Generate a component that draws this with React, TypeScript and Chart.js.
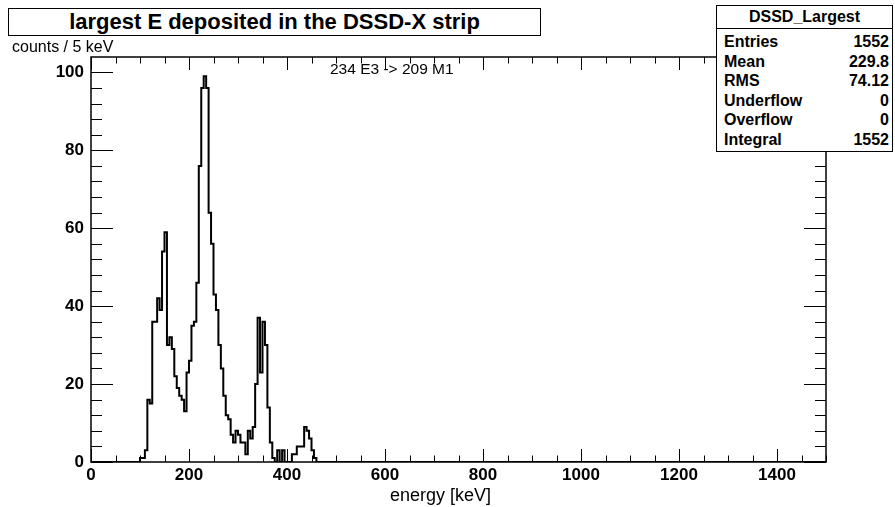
import React, { useEffect, useRef } from "react";
import { Chart, registerables } from "chart.js";

Chart.register(...registerables);

// ---- text ----
const titleText = "largest E deposited in the DSSD-X strip";
const yAxisTitle = "counts / 5 keV";
const xAxisTitle = "energy [keV]";
const annotationText = "234 E3 -> 209 M1";
const statsName = "DSSD_Largest";
const statsLabels = ["Entries", "Mean", "RMS", "Underflow", "Overflow", "Integral"];
const statsValues = ["1552", "229.8", "74.12", "0", "0", "1552"];

// ---- histogram: 5 keV bins, first listed bin starts at 100 keV ----
const binWidth = 5;
const firstBinLow = 100;
const counts = [
  1, 1, 3, 16, 15, 36, 36, 42, 39, 54,
  59, 30, 32, 29, 22, 19, 17, 16, 13, 23,
  26, 35, 36, 46, 76, 96, 99, 96, 64, 56,
  43, 39, 30, 24, 17, 12, 11, 7, 5, 8,
  7, 5, 5, 2, 8, 6, 9, 20, 37, 23,
  36, 30, 14, 5, 1, 0, 3, 0, 3, 0,
  0, 0, 2, 2, 4, 4, 4, 9, 8, 6,
  3, 1,
];

// ---- axes ----
const xMin = 0;
const xMax = 1500;
const xMajorStep = 200;
const xMinorStep = 50;
const yMajorStep = 20;
const yMinorStep = 4;

const FONT = '"Liberation Sans", Arial, Helvetica, sans-serif';

// frame plus inward-pointing ticks on all four sides
const frameTicks = {
  id: "frameTicks",
  afterDatasetsDraw(chart: any) {
    const { ctx, chartArea: a, scales } = chart;
    const x = scales.x;
    const y = scales.y;
    ctx.save();
    ctx.strokeStyle = "#000";
    ctx.lineWidth = 1;
    ctx.beginPath();
    for (let v = xMin; v <= xMax + 1e-6; v += xMinorStep) {
      const px = Math.round(x.getPixelForValue(v)) + 0.5;
      const len = v % xMajorStep === 0 ? 13 : 6.5;
      ctx.moveTo(px, a.bottom);
      ctx.lineTo(px, a.bottom - len);
      ctx.moveTo(px, a.top);
      ctx.lineTo(px, a.top + len);
    }
    for (let v = 0; v <= y.max + 1e-6; v += yMinorStep) {
      const py = Math.round(y.getPixelForValue(v)) + 0.5;
      const len = v % yMajorStep === 0 ? 22 : 11;
      ctx.moveTo(a.left, py);
      ctx.lineTo(a.left + len, py);
      ctx.moveTo(a.right, py);
      ctx.lineTo(a.right - len, py);
    }
    ctx.stroke();
    ctx.lineWidth = 1.5;
    ctx.strokeRect(a.left, a.top, a.right - a.left, a.bottom - a.top);
    ctx.restore();
  },
};

function HistogramChart() {
  const canvasRef = useRef<HTMLCanvasElement | null>(null);

  useEffect(() => {
    const canvas = canvasRef.current;
    if (!canvas) return;

    const points: { x: number; y: number }[] = [{ x: xMin, y: 0 }];
    counts.forEach((c, i) => points.push({ x: firstBinLow + i * binWidth, y: c }));
    points.push({ x: firstBinLow + counts.length * binWidth, y: 0 });
    points.push({ x: xMax, y: 0 });

    const yMax = Math.max(...counts) * 1.05;

    const chart = new Chart(canvas, {
      type: "line",
      data: {
        datasets: [
          {
            data: points,
            borderColor: "#000",
            borderWidth: 2,
            pointRadius: 0,
            stepped: true,
            fill: false,
            tension: 0,
          },
        ],
      },
      options: {
        animation: false,
        responsive: false,
        events: [],
        layout: { padding: { top: 57, right: 69, left: 0, bottom: 0 } },
        plugins: {
          legend: { display: false },
          tooltip: { enabled: false },
          title: { display: false },
        },
        scales: {
          x: {
            type: "linear",
            min: xMin,
            max: xMax,
            grid: { display: false, drawTicks: false },
            border: { display: false },
            ticks: {
              stepSize: xMajorStep,
              includeBounds: false,
              autoSkip: false,
              maxRotation: 0,
              padding: 3,
              color: "#000",
              font: { family: FONT, size: 17, weight: "bold" },
              callback: (v: any) => String(v),
            },
            afterFit: (s: any) => {
              s.height = 45;
            },
          },
          y: {
            type: "linear",
            min: 0,
            max: yMax,
            grid: { display: false, drawTicks: false },
            border: { display: false },
            ticks: {
              stepSize: yMajorStep,
              includeBounds: false,
              padding: 7,
              color: "#000",
              font: { family: FONT, size: 17, weight: "bold" },
              callback: (v: any) => String(v),
            },
            afterFit: (s: any) => {
              s.width = 91;
            },
          },
        },
      },
      plugins: [frameTicks],
    });

    return () => chart.destroy();
  }, []);

  return (
    <canvas
      ref={canvasRef}
      width={895}
      height={507}
      style={{ position: "absolute", left: 0, top: 0, width: 895, height: 507 }}
    />
  );
}

export default function App() {
  const rowTop = 31;
  const rowStep = 19.6;
  return (
    <div
      style={{
        position: "absolute",
        left: 0,
        top: 0,
        width: 895,
        height: 507,
        background: "#fff",
        fontFamily: FONT,
        color: "#000",
        overflow: "hidden",
      }}
    >
      <HistogramChart />

      {/* title box */}
      <div
        style={{
          position: "absolute",
          left: 8,
          top: 8,
          width: 533,
          height: 28,
          boxSizing: "border-box",
          border: "1.5px solid #000",
          background: "#fff",
          textAlign: "center",
          fontWeight: "bold",
          fontSize: 22,
          lineHeight: "26px",
          whiteSpace: "nowrap",
        }}
      >
        {titleText}
      </div>

      {/* y axis title */}
      <div
        style={{
          position: "absolute",
          left: 12,
          top: 38,
          fontSize: 16,
          lineHeight: "18px",
          whiteSpace: "nowrap",
        }}
      >
        {yAxisTitle}
      </div>

      {/* x axis title */}
      <div
        style={{
          position: "absolute",
          right: 404,
          top: 485,
          fontSize: 18,
          lineHeight: "20px",
          whiteSpace: "nowrap",
          textAlign: "right",
        }}
      >
        {xAxisTitle}
      </div>

      {/* annotation */}
      <div
        style={{
          position: "absolute",
          left: 330,
          top: 60,
          fontSize: 15.5,
          lineHeight: "18px",
          whiteSpace: "nowrap",
        }}
      >
        {annotationText}
      </div>

      {/* statistics box */}
      <div
        style={{
          position: "absolute",
          left: 716,
          top: 5,
          width: 177,
          height: 147,
          boxSizing: "border-box",
          border: "1.5px solid #000",
          background: "#fff",
          fontWeight: "bold",
          fontSize: 16,
        }}
      >
        <div
          style={{
            position: "absolute",
            left: 0,
            right: 0,
            top: 0,
            height: 22,
            borderBottom: "1px solid #000",
            textAlign: "center",
            lineHeight: "22px",
          }}
        >
          {statsName}
        </div>
        {statsLabels.map((label, i) => (
          <div
            key={label}
            style={{
              position: "absolute",
              left: 7,
              right: 3,
              top: rowTop + i * rowStep - 5,
              height: 20,
              lineHeight: "20px",
              display: "flex",
              justifyContent: "space-between",
            }}
          >
            <span>{label}</span>
            <span>{statsValues[i]}</span>
          </div>
        ))}
      </div>
    </div>
  );
}
